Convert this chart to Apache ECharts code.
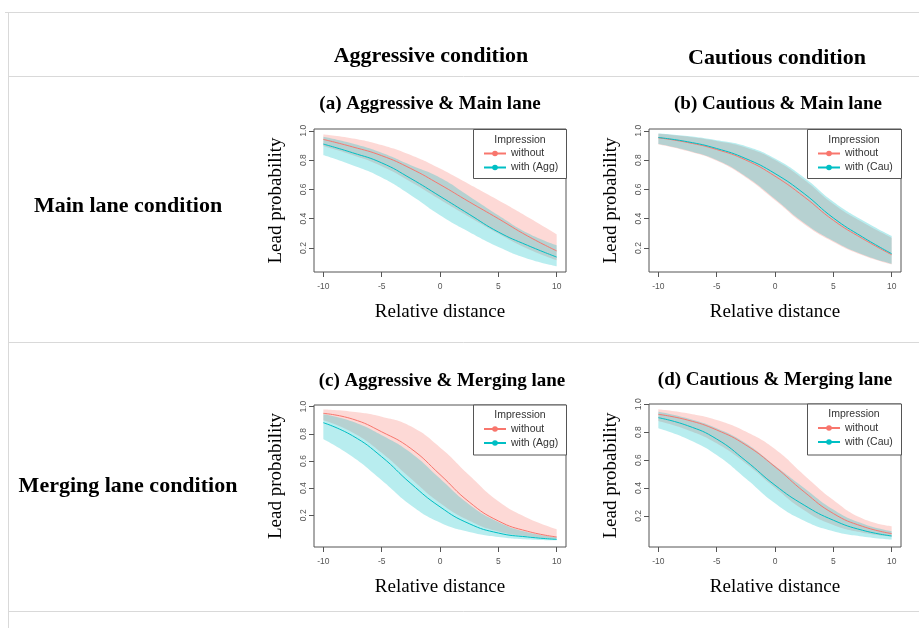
<!DOCTYPE html>
<html>
<head>
<meta charset="utf-8">
<script src="https://cdn.jsdelivr.net/npm/echarts@6/dist/echarts.min.js"></script>
<style>
html,body{margin:0;padding:0;background:#fff;}
#chart{width:919px;height:628px;}
</style>
</head>
<body>
<div id="chart"></div>
<script>
// ---- data ----
const xs = [-10, -7.5, -5, -2.5, 0, 2.5, 5, 7.5, 10];
const xTicks = [-10, -5, 0, 5, 10];
const yTicks = [0.2, 0.4, 0.6, 0.8, 1.0];

// (a) Aggressive & Main lane
const aWithoutMean  = [0.941, 0.890, 0.830, 0.742, 0.633, 0.515, 0.400, 0.282, 0.180];
const aWithoutUpper = [0.975, 0.948, 0.902, 0.834, 0.742, 0.635, 0.526, 0.412, 0.293];
const aWithoutLower = [0.895, 0.834, 0.758, 0.651, 0.530, 0.412, 0.298, 0.195, 0.116];
const aWithMean     = [0.909, 0.850, 0.781, 0.674, 0.553, 0.430, 0.309, 0.218, 0.138];
const aWithUpper    = [0.959, 0.913, 0.850, 0.765, 0.680, 0.553, 0.423, 0.302, 0.218];
const aWithLower    = [0.834, 0.765, 0.681, 0.560, 0.423, 0.309, 0.207, 0.127, 0.075];

// (b) Cautious & Main lane
const bWithoutMean  = [0.952, 0.920, 0.872, 0.800, 0.690, 0.549, 0.389, 0.264, 0.154];
const bWithoutUpper = [0.980, 0.960, 0.930, 0.885, 0.800, 0.665, 0.500, 0.375, 0.270];
const bWithoutLower = [0.907, 0.861, 0.795, 0.681, 0.526, 0.362, 0.241, 0.150, 0.088];
const bWithMean     = [0.954, 0.925, 0.879, 0.810, 0.708, 0.571, 0.405, 0.275, 0.161];
const bWithUpper    = [0.982, 0.964, 0.936, 0.895, 0.810, 0.680, 0.515, 0.389, 0.282];
const bWithLower    = [0.910, 0.865, 0.800, 0.688, 0.534, 0.370, 0.248, 0.155, 0.092];

// (c) Aggressive & Merging lane
const cWithoutMean  = [0.951, 0.909, 0.815, 0.692, 0.500, 0.298, 0.158, 0.082, 0.040];
const cWithoutUpper = [0.980, 0.963, 0.926, 0.855, 0.700, 0.495, 0.303, 0.180, 0.097];
const cWithoutLower = [0.900, 0.810, 0.660, 0.470, 0.290, 0.160, 0.080, 0.045, 0.025];
const cWithMean     = [0.882, 0.786, 0.631, 0.434, 0.262, 0.138, 0.069, 0.040, 0.022];
const cWithUpper    = [0.945, 0.890, 0.790, 0.660, 0.470, 0.280, 0.150, 0.075, 0.038];
const cWithLower    = [0.761, 0.631, 0.458, 0.274, 0.146, 0.077, 0.040, 0.022, 0.015];

// (d) Cautious & Merging lane
const dWithoutMean  = [0.928, 0.887, 0.816, 0.708, 0.552, 0.372, 0.217, 0.125, 0.073];
const dWithoutUpper = [0.964, 0.935, 0.887, 0.804, 0.679, 0.492, 0.313, 0.181, 0.126];
const dWithoutLower = [0.880, 0.816, 0.720, 0.576, 0.401, 0.240, 0.135, 0.080, 0.052];
const dWithMean     = [0.904, 0.847, 0.751, 0.595, 0.420, 0.277, 0.169, 0.097, 0.056];
const dWithUpper    = [0.947, 0.899, 0.828, 0.720, 0.560, 0.400, 0.245, 0.145, 0.090];
const dWithLower    = [0.828, 0.751, 0.636, 0.468, 0.290, 0.165, 0.090, 0.052, 0.030];

const panelTitles = ['(a) Aggressive & Main lane', '(b) Cautious & Main lane',
                     '(c) Aggressive & Merging lane', '(d) Cautious & Merging lane'];
const withNames = ['with (Agg)', 'with (Cau)', 'with (Agg)', 'with (Cau)'];
const withoutName = 'without';
const legendTitle = 'Impression';
const colHeaders = ['Aggressive condition', 'Cautious condition'];
const rowHeaders = ['Main lane condition', 'Merging lane condition'];
const xName = 'Relative distance';
const yName = 'Lead probability';

const panelData = [
  {wo: [aWithoutMean, aWithoutUpper, aWithoutLower], wi: [aWithMean, aWithUpper, aWithLower]},
  {wo: [bWithoutMean, bWithoutUpper, bWithoutLower], wi: [bWithMean, bWithUpper, bWithLower]},
  {wo: [cWithoutMean, cWithoutUpper, cWithoutLower], wi: [cWithMean, cWithUpper, cWithLower]},
  {wo: [dWithoutMean, dWithoutUpper, dWithoutLower], wi: [dWithMean, dWithUpper, dWithLower]}
];

// ---- layout ----
const RED = '#F8766D', TEAL = '#00BFC4';
const RED_BAND = 'rgba(248,118,109,0.28)', TEAL_BAND = 'rgba(0,191,196,0.28)';
const grids = [
  {left: 314, top: 129, width: 252, height: 143, ymin: 0.036, ymax: 1.012},
  {left: 649, top: 129, width: 252, height: 143, ymin: 0.036, ymax: 1.012},
  {left: 314, top: 405, width: 252, height: 142, ymin: -0.034, ymax: 1.0125},
  {left: 649, top: 404, width: 252, height: 143, ymin: -0.023, ymax: 1.002}
];
const legendBoxes = [
  {x: 473, y: 129, w: 93, h: 49},
  {x: 807, y: 129, w: 94, h: 49},
  {x: 473, y: 404.5, w: 93, h: 50},
  {x: 807, y: 403.5, w: 94, h: 51}
];
const titlePos = [[430, 104], [778, 104], [442, 381], [775, 380]];

const SERIF = '"Liberation Serif", "Times New Roman", serif';
const SANS = '"Liberation Sans", Arial, sans-serif';

// smooth a pixel polyline the same way ECharts smooths lines (smooth = 0.5)
function smoothPts(pts, s) {
  const n = pts.length;
  const cps = pts.map((p, i) => {
    if (i === 0 || i === n - 1) return {out: p, inn: p};
    const prev = pts[i - 1], next = pts[i + 1];
    const vx = next[0] - prev[0], vy = next[1] - prev[1];
    const l0 = Math.hypot(p[0] - prev[0], p[1] - prev[1]);
    const l1 = Math.hypot(next[0] - p[0], next[1] - p[1]);
    const r = (l0 + l1) > 0 ? l1 / (l0 + l1) : 0.5;
    return {out: [p[0] + vx * s * r, p[1] + vy * s * r],
            inn: [p[0] - vx * s * (1 - r), p[1] - vy * s * (1 - r)]};
  });
  const out = [pts[0]];
  for (let i = 0; i < n - 1; i++) {
    const p0 = pts[i], c1 = cps[i].out, c2 = cps[i + 1].inn, p3 = pts[i + 1];
    for (let t = 1; t <= 16; t++) {
      const u = t / 16, m = 1 - u;
      out.push([
        m * m * m * p0[0] + 3 * m * m * u * c1[0] + 3 * m * u * u * c2[0] + u * u * u * p3[0],
        m * m * m * p0[1] + 3 * m * m * u * c1[1] + 3 * m * u * u * c2[1] + u * u * u * p3[1]
      ]);
    }
  }
  return out;
}

function bandSeries(i, lo, up, col) {
  return {
    type: 'custom', xAxisIndex: i, yAxisIndex: i, silent: true, z: 1,
    encode: {x: 0, y: [1, 2]},
    data: xs.map((x, k) => [x, lo[k], up[k]]),
    renderItem: (params, api) => {
      if (params.dataIndexInside !== 0) return null;
      const n = xs.length;
      const upPts = [], loPts = [];
      for (let k = 0; k < n; k++) {
        upPts.push(api.coord([api.value(0, k), api.value(2, k)]));
        loPts.push(api.coord([api.value(0, k), api.value(1, k)]));
      }
      const pts = smoothPts(upPts, 0.5).concat(smoothPts(loPts.reverse(), 0.5));
      return {type: 'polygon', shape: {points: pts}, style: {fill: col, stroke: null}};
    }
  };
}

const option = {
  animation: false,
  backgroundColor: '#fff',
  grid: [], xAxis: [], yAxis: [], series: [], legend: [], graphic: []
};

grids.forEach((g, i) => {
  option.grid.push({left: g.left, top: g.top, width: g.width, height: g.height,
    show: true, borderColor: '#555', borderWidth: 1, backgroundColor: 'transparent', containLabel: false});
  option.xAxis.push({
    type: 'value', gridIndex: i, min: -10.8, max: 10.8,
    splitLine: {show: false}, axisLine: {show: false, onZero: false},
    axisTick: {show: true, customValues: xTicks, length: 5, lineStyle: {color: '#555', width: 1}},
    axisLabel: {customValues: xTicks, fontSize: 8.5, color: '#555', margin: 10, fontFamily: SANS},
    name: xName, nameLocation: 'middle', nameGap: 31,
    nameTextStyle: {fontFamily: SERIF, fontSize: 19, color: '#000'}
  });
  option.yAxis.push({
    type: 'value', gridIndex: i, min: g.ymin, max: g.ymax,
    splitLine: {show: false}, axisLine: {show: false, onZero: false},
    axisTick: {show: true, customValues: yTicks, length: 5, lineStyle: {color: '#555', width: 1}},
    axisLabel: {customValues: yTicks, fontSize: 8.5, color: '#555', margin: 6, rotate: 90,
      fontFamily: SANS, formatter: v => v.toFixed(1)},
    name: yName, nameLocation: 'middle', nameGap: 28,
    nameTextStyle: {fontFamily: SERIF, fontSize: 19, color: '#000'}
  });

  const pd = panelData[i];
  option.series.push(bandSeries(i, pd.wo[2], pd.wo[1], RED_BAND));
  option.series.push(bandSeries(i, pd.wi[2], pd.wi[1], TEAL_BAND));
  [[pd.wo[0], RED, withoutName], [pd.wi[0], TEAL, withNames[i]]].forEach(([m, col, nm]) => {
    option.series.push({
      type: 'line', name: nm, xAxisIndex: i, yAxisIndex: i,
      data: xs.map((x, k) => [x, m[k]]), smooth: true, symbol: 'circle', symbolSize: 5,
      showSymbol: false, silent: true,
      lineStyle: {color: col, width: 1}, itemStyle: {color: col}, z: 3
    });
  });

  const lb = legendBoxes[i];
  option.graphic.push({
    type: 'rect', z: 5, shape: {x: lb.x + 0.5, y: lb.y + 0.5, width: lb.w, height: lb.h},
    style: {fill: '#fff', stroke: '#555', lineWidth: 1}
  });
  option.graphic.push({
    type: 'text', z: 6, x: lb.x + 47, y: lb.y + 11,
    style: {text: legendTitle, font: '10.5px ' + SANS, fill: '#333', align: 'center', verticalAlign: 'middle'}
  });
  option.legend.push({
    left: lb.x + 10, top: lb.y + 18, orient: 'vertical', itemWidth: 22, itemHeight: 7, itemGap: 1,
    padding: 0, selectedMode: false, z: 10,
    data: [withoutName, withNames[i]],
    textStyle: {fontSize: 10.5, color: '#333', fontFamily: SANS, lineHeight: 13}
  });

  option.graphic.push({
    type: 'text', z: 6, x: titlePos[i][0], y: titlePos[i][1],
    style: {text: panelTitles[i], font: 'bold 19px ' + SERIF, fill: '#000', align: 'center', verticalAlign: 'middle'}
  });
});

// table rules and headers
const rule = (x1, y1, x2, y2) => ({type: 'line', z: 0, silent: true,
  shape: {x1, y1, x2, y2}, style: {stroke: '#d9d9d9', lineWidth: 1}});
option.graphic.push(rule(5, 12.5, 919, 12.5));
option.graphic.push(rule(8.5, 12, 8.5, 628));
option.graphic.push(rule(8, 76.5, 919, 76.5));
option.graphic.push(rule(8, 342.5, 919, 342.5));
option.graphic.push(rule(8, 611.5, 919, 611.5));

const hdr = (t, x, y) => ({type: 'text', z: 6, x, y,
  style: {text: t, font: 'bold 22px ' + SERIF, fill: '#000', align: 'center', verticalAlign: 'middle'}});
option.graphic.push(hdr(colHeaders[0], 431, 56));
option.graphic.push(hdr(colHeaders[1], 777, 58));
option.graphic.push(hdr(rowHeaders[0], 128, 206));
option.graphic.push(hdr(rowHeaders[1], 128, 486));

const chart = echarts.init(document.getElementById('chart'), null, {renderer: 'canvas'});
chart.setOption(option);
</script>
</body>
</html>
